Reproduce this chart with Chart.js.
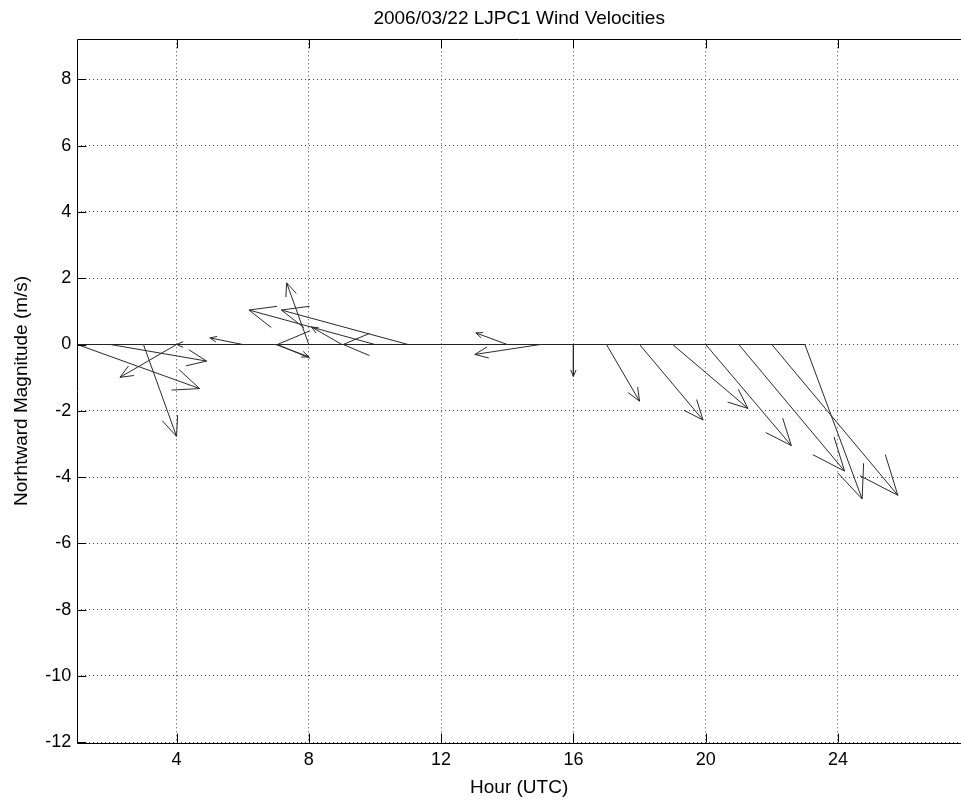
<!DOCTYPE html>
<html>
<head>
<meta charset="utf-8">
<script src="https://cdn.jsdelivr.net/npm/chart.js@4.4.1/dist/chart.umd.min.js"></script>
<style>
  html, body { margin: 0; padding: 0; background: #ffffff; overflow: hidden; }
  #wrap { width: 961px; height: 803px; }
</style>
</head>
<body>
<div id="wrap"><canvas id="c" width="961" height="803"></canvas></div>
<script>
// ---- data ----
const hours = [1, 2, 3, 4, 5, 6, 7, 8, 9, 10, 11, 12, 13, 14, 15, 16, 17, 18, 19, 20, 21, 22, 23];
// displayed eastward / northward vector components (plot units, as drawn by the quiver plot)
const uComp = [3.70, 2.91, 1.00, -1.71, -1.00, -0.99, 1.00, -0.67, -0.92, -3.81, -3.83, -4.95, -3.96, -0.95, -1.98, 0.00, 1.00, 1.92, 2.28, 2.59, 3.20, 3.81, 1.73];
const vComp = [-1.33, -0.50, -2.77, -0.99, 0.00, 0.20, -0.37, 1.86, 0.53, 1.04, 1.04, 0.00, 0.00, 0.35, -0.30, -0.96, -1.71, -2.28, -1.93, -3.05, -3.82, -4.55, -4.66];
const xTicks = [4, 8, 12, 16, 20, 24];
const yTicks = [-12, -10, -8, -6, -4, -2, 0, 2, 4, 6, 8];

// ---- quiver geometry (arrow shaft + head wings, in data units) ----
const headAlpha = 0.2, headBeta = 0.42;
const arrowPts = [];
hours.forEach((h, i) => {
  const u = uComp[i], v = vComp[i];
  if (u === 0 && v === 0) return;
  const tx = h + u, ty = v;
  const w1 = {x: tx - headAlpha * (u + headBeta * v), y: ty - headAlpha * (v - headBeta * u)};
  const w2 = {x: tx - headAlpha * (u - headBeta * v), y: ty - headAlpha * (v + headBeta * u)};
  arrowPts.push({x: h, y: 0}, {x: tx, y: ty}, w1, {x: tx, y: null}, {x: tx, y: ty}, w2, {x: tx, y: null});
});
const baseLine = hours.map(h => ({x: h, y: 0}));

const font = "'Liberation Sans', Arial, Helvetica, sans-serif";

// inward tick marks + axes box (left, top, bottom; the right side lies past the picture)
const frame = {
  id: 'frame',
  afterDraw(chart) {
    const {ctx, chartArea: a, scales} = chart;
    ctx.save();
    ctx.strokeStyle = '#000';
    ctx.lineWidth = 1;
    ctx.beginPath();
    const L = 9;
    scales.x.ticks.forEach(t => {
      const px = Math.round(scales.x.getPixelForValue(t.value)) + 0.5;
      ctx.moveTo(px, a.bottom); ctx.lineTo(px, a.bottom - L);
      ctx.moveTo(px, a.top); ctx.lineTo(px, a.top + L);
    });
    scales.y.ticks.forEach(t => {
      const py = Math.round(scales.y.getPixelForValue(t.value)) + 0.5;
      ctx.moveTo(a.left, py); ctx.lineTo(a.left + L, py);
    });
    ctx.stroke();
    const l = Math.round(a.left) + 0.5, t = Math.round(a.top) + 0.5, b = Math.round(a.bottom) + 0.5;
    ctx.beginPath();
    ctx.moveTo(a.right + 2, t); ctx.lineTo(l, t); ctx.lineTo(l, b); ctx.lineTo(a.right + 2, b);
    ctx.stroke();
    ctx.restore();
  }
};

new Chart(document.getElementById('c'), {
  type: 'scatter',
  data: {
    datasets: [
      {
        label: 'zero',
        data: baseLine,
        showLine: true,
        borderColor: '#222',
        borderWidth: 1,
        pointRadius: 0,
        tension: 0
      },
      {
        label: 'wind',
        data: arrowPts,
        showLine: true,
        spanGaps: false,
        borderColor: '#2a2a2a',
        borderWidth: 1,
        pointRadius: 0,
        tension: 0
      }
    ]
  },
  options: {
    responsive: false,
    animation: false,
    devicePixelRatio: 1,
    layout: { padding: 0 },
    plugins: {
      legend: { display: false },
      tooltip: { enabled: false },
      title: {
        display: true,
        text: '2006/03/22 LJPC1 Wind Velocities',
        fullSize: false,
        color: '#000',
        font: { family: font, size: 19, weight: 'normal' },
        padding: { top: 7, bottom: 9.5 }
      }
    },
    scales: {
      x: {
        type: 'linear',
        min: 1,
        max: 27.72,
        afterBuildTicks: s => { s.ticks = xTicks.map(v => ({value: v})); },
        afterFit: s => { s.height = 60.5; },
        grid: { display: true, drawTicks: false, color: '#444', lineWidth: 1 },
        border: { display: false, dash: [1, 3] },
        ticks: { color: '#000', padding: 7, font: { family: font, size: 18 }, maxRotation: 0, autoSkip: false },
        title: { display: true, text: 'Hour (UTC)', color: '#000', font: { family: font, size: 19 }, padding: { top: 0, bottom: 4 } }
      },
      y: {
        type: 'linear',
        min: -12.01,
        max: 9.21,
        afterBuildTicks: s => { s.ticks = yTicks.map(v => ({value: v})); },
        afterFit: s => { s.width = 77.3; },
        grid: { display: true, drawTicks: false, color: '#444', lineWidth: 1 },
        border: { display: false, dash: [1, 3] },
        ticks: { color: '#000', padding: 6, font: { family: font, size: 18 }, autoSkip: false },
        title: { display: true, text: 'Norhtward Magnitude (m/s)', color: '#000', font: { family: font, size: 19 }, padding: { top: 10.6, bottom: 0 } }
      }
    }
  },
  plugins: [frame]
});
</script>
</body>
</html>
